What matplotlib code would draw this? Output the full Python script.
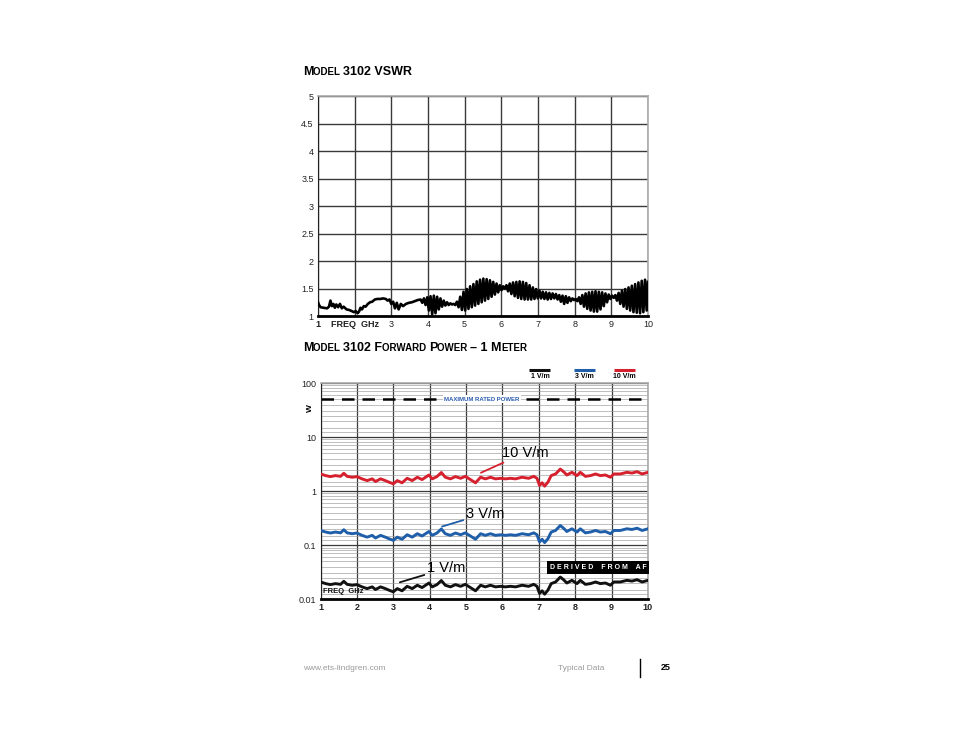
import numpy as np
import matplotlib

matplotlib.use("Agg")
import matplotlib.pyplot as plt
from matplotlib.offsetbox import AnchoredOffsetbox, HPacker, TextArea
from matplotlib.ticker import LogLocator, NullFormatter


NARROW = ["Liberation Sans Narrow", "Liberation Sans", "DejaVu Sans"]
SANS = ["Liberation Sans", "DejaVu Sans"]

# --- VSWR (top chart) ---
# smooth part, 1 - 3.75 GHz
vswr_freq = [1.00, 1.03, 1.07, 1.15, 1.25, 1.30, 1.34, 1.38, 1.42, 1.46, 1.50, 1.55,
             1.60, 1.65, 1.70, 1.78, 1.85, 1.92, 1.98, 2.03, 2.08, 2.12, 2.16, 2.20,
             2.25, 2.30, 2.36, 2.42, 2.48, 2.55, 2.62, 2.70, 2.78, 2.85, 2.90, 2.95,
             3.00, 3.05, 3.10, 3.15, 3.20, 3.26, 3.32, 3.40, 3.48, 3.56, 3.64, 3.72]
vswr_vals = [1.25, 1.20, 1.16, 1.15, 1.14, 1.17, 1.28, 1.18, 1.22, 1.15, 1.21, 1.16,
             1.22, 1.14, 1.17, 1.12, 1.11, 1.09, 1.07, 1.09, 1.05, 1.08, 1.15, 1.12,
             1.18, 1.17, 1.22, 1.25, 1.26, 1.30, 1.31, 1.31, 1.32, 1.31, 1.28, 1.30,
             1.22, 1.26, 1.14, 1.24, 1.12, 1.22, 1.18, 1.22, 1.24, 1.25, 1.27, 1.29]
# ripple part: peak / trough alternating every 0.045 GHz from 3.80 GHz
osc_start = 3.80
osc_half_step = 0.045
osc_peaks = [1.30, 1.32, 1.34, 1.36, 1.37, 1.35, 1.32, 1.28, 1.25, 1.23,
             1.22, 1.26, 1.35, 1.44, 1.49, 1.54, 1.58, 1.63, 1.66, 1.68,
             1.67, 1.65, 1.62, 1.59, 1.56, 1.54, 1.56, 1.59, 1.61, 1.62,
             1.63, 1.62, 1.60, 1.56, 1.52, 1.49, 1.46, 1.44, 1.43, 1.42,
             1.41, 1.40, 1.38, 1.37, 1.36, 1.34, 1.32, 1.31, 1.34, 1.38,
             1.41, 1.43, 1.44, 1.45, 1.44, 1.43, 1.41, 1.39, 1.37, 1.38,
             1.42, 1.46, 1.49, 1.52, 1.55, 1.58, 1.61, 1.64, 1.66]
osc_troughs = [1.24, 1.20, 1.10, 1.03, 1.05, 1.12, 1.17, 1.19, 1.20, 1.21,
               1.20, 1.16, 1.11, 1.10, 1.13, 1.16, 1.19, 1.22, 1.25, 1.28,
               1.31, 1.35, 1.39, 1.43, 1.47, 1.50, 1.45, 1.40, 1.36, 1.33,
               1.31, 1.30, 1.30, 1.30, 1.31, 1.32, 1.32, 1.31, 1.30, 1.31,
               1.32, 1.30, 1.26, 1.22, 1.24, 1.27, 1.29, 1.27, 1.22, 1.17,
               1.13, 1.10, 1.08, 1.08, 1.12, 1.18, 1.25, 1.31, 1.33, 1.28,
               1.22, 1.17, 1.13, 1.10, 1.07, 1.06, 1.05, 1.07, 1.10]
vswr_last = (10.0, 1.62)

vswr_yticks = [1, 1.5, 2, 2.5, 3, 3.5, 4, 4.5, 5]
vswr_ylabels = ["1", "1.5", "2", "2.5", "3", "3.5", "4", "4.5", "5"]
freq_ticks = [1, 2, 3, 4, 5, 6, 7, 8, 9, 10]
vswr_xlabels = ["1", "FREQ  GHz", "3", "4", "5", "6", "7", "8", "9", "10"]

# --- Forward power (bottom chart) ---
pw_freq = [1.00, 1.14, 1.27, 1.41, 1.55, 1.64, 1.73, 1.87, 2.00, 2.14,
           2.28, 2.42, 2.51, 2.65, 2.78, 2.88, 3.00, 3.11, 3.24, 3.38,
           3.52, 3.66, 3.79, 3.98, 4.07, 4.20, 4.32, 4.43, 4.57, 4.71,
           4.85, 4.98, 5.12, 5.26, 5.40, 5.53, 5.67, 5.81, 5.95, 6.08,
           6.22, 6.36, 6.54, 6.72, 6.86, 6.95, 7.02, 7.09, 7.16, 7.25,
           7.34, 7.46, 7.59, 7.68, 7.77, 7.91, 8.05, 8.14, 8.28, 8.42,
           8.56, 8.69, 8.83, 8.97, 9.06, 9.24, 9.42, 9.56, 9.70, 9.84, 10.00]
pw_10 = [2.07, 1.93, 1.85, 1.93, 1.87, 2.13, 1.87, 1.80, 1.85, 1.68,
         1.56, 1.68, 1.50, 1.68, 1.56, 1.46, 1.36, 1.56, 1.42, 1.72,
         1.56, 1.80, 1.63, 1.98, 1.68, 1.85, 2.20, 1.80, 1.68, 1.85,
         1.72, 1.87, 1.63, 1.42, 1.80, 1.68, 1.80, 1.68, 1.72, 1.68,
         1.72, 1.68, 1.80, 1.72, 1.87, 1.72, 1.27, 1.42, 1.23, 1.46,
         1.93, 2.07, 2.55, 2.28, 1.98, 2.22, 1.93, 2.22, 1.87, 1.93,
         2.07, 1.93, 1.98, 1.80, 2.07, 2.07, 2.22, 2.15, 2.28, 2.07, 2.22]
pw_3 = [0.186, 0.174, 0.167, 0.174, 0.168, 0.192, 0.168, 0.162, 0.167, 0.151,
        0.140, 0.151, 0.135, 0.151, 0.140, 0.131, 0.122, 0.140, 0.128, 0.155,
        0.140, 0.162, 0.147, 0.178, 0.151, 0.167, 0.198, 0.162, 0.151, 0.167,
        0.155, 0.168, 0.147, 0.128, 0.162, 0.151, 0.162, 0.151, 0.155, 0.151,
        0.155, 0.151, 0.162, 0.155, 0.168, 0.155, 0.114, 0.128, 0.111, 0.131,
        0.174, 0.186, 0.230, 0.205, 0.178, 0.200, 0.174, 0.200, 0.168, 0.174,
        0.186, 0.174, 0.178, 0.162, 0.186, 0.186, 0.200, 0.194, 0.205, 0.186, 0.200]
pw_1 = [0.0207, 0.0193, 0.0185, 0.0193, 0.0187, 0.0213, 0.0187, 0.0180, 0.0185, 0.0168,
        0.0156, 0.0168, 0.0150, 0.0168, 0.0156, 0.0146, 0.0136, 0.0156, 0.0142, 0.0172,
        0.0156, 0.0180, 0.0163, 0.0198, 0.0168, 0.0185, 0.0220, 0.0180, 0.0168, 0.0185,
        0.0172, 0.0187, 0.0163, 0.0142, 0.0180, 0.0168, 0.0180, 0.0168, 0.0172, 0.0168,
        0.0172, 0.0168, 0.0180, 0.0172, 0.0187, 0.0172, 0.0127, 0.0142, 0.0123, 0.0146,
        0.0193, 0.0207, 0.0255, 0.0228, 0.0198, 0.0222, 0.0193, 0.0222, 0.0187, 0.0193,
        0.0207, 0.0193, 0.0198, 0.0180, 0.0207, 0.0207, 0.0222, 0.0215, 0.0228, 0.0207, 0.0222]
max_rated_power = 50
pw_yticks = [0.01, 0.1, 1, 10, 100]
pw_ylabels = ["0.01", "0.1", "1", "10", "100"]

SERIES = ["1 V/m", "3 V/m", "10 V/m"]
COLORS = {"1 V/m": "#111111", "3 V/m": "#1f5ea8", "10 V/m": "#d6202e"}
GRID = "#3a3a3a"


def smallcaps(fig, x, y, parts, big=9.0, small=7.0):
    boxes = []
    for text, is_big in parts:
        boxes.append(TextArea(text, textprops=dict(fontsize=big if is_big else small,
                                                   fontweight="bold", family=SANS)))
    pack = HPacker(children=boxes, align="baseline", pad=0, sep=0)
    box = AnchoredOffsetbox(loc="lower left", child=pack, bbox_to_anchor=(x, y),
                            bbox_transform=fig.transFigure, frameon=False, pad=0, borderpad=0)
    fig.add_artist(box)


fig = plt.figure(figsize=(9.54, 7.38), dpi=100)
fig.patch.set_facecolor("white")

# ---------------- VSWR ----------------
ax1 = fig.add_axes([0.3333, 0.5718, 0.3459, 0.2981])
osc_vals = []
for p, t in zip(osc_peaks, osc_troughs):
    osc_vals += [p, t]
osc_freq = osc_start + osc_half_step * np.arange(len(osc_vals))
x_all = np.concatenate([vswr_freq, osc_freq, [vswr_last[0]]])
y_all = np.concatenate([vswr_vals, osc_vals, [vswr_last[1]]])
ax1.plot(x_all, y_all, color="black", lw=1.9, solid_joinstyle="round", zorder=3)

ax1.set_xlim(1, 10)
ax1.set_ylim(1, 5)
ax1.set_xticks(freq_ticks)
ax1.set_xticklabels(vswr_xlabels)
ax1.set_yticks(vswr_yticks)
ax1.set_yticklabels(vswr_ylabels)
for lab in ax1.get_xticklabels() + ax1.get_yticklabels():
    lab.set_family(NARROW)
    lab.set_fontsize(6.5)
    lab.set_color("#222222")
ax1.get_xticklabels()[1].set_fontweight("bold")
ax1.get_xticklabels()[0].set_fontweight("bold")
ax1.tick_params(length=0, pad=3)
ax1.grid(True, color=GRID, lw=1.0)
ax1.set_axisbelow(True)
for side in ["top", "right"]:
    ax1.spines[side].set_color("#aaaaaa")
    ax1.spines[side].set_linewidth(1.2)
ax1.spines["left"].set_color("#222222")
ax1.spines["bottom"].set_color("black")
ax1.spines["bottom"].set_linewidth(2.0)

smallcaps(fig, 0.3176, 0.894, [("M", True), ("ODEL ", False), ("3102 VSWR", True)])

# ---------------- Forward power ----------------
ax2 = fig.add_axes([0.3360, 0.1883, 0.3432, 0.2927])
for name, vals in zip(SERIES, [pw_1, pw_3, pw_10]):
    ax2.plot(pw_freq, vals, color=COLORS[name], lw=2.1, solid_joinstyle="round", zorder=3)
ax2.set_yscale("log")
ax2.set_xlim(1, 10)
ax2.set_ylim(0.01, 100)
ax2.set_xticks(freq_ticks)
ax2.set_xticklabels([str(v) for v in freq_ticks])
ax2.set_yticks(pw_yticks)
ax2.set_yticklabels(pw_ylabels)
ax2.yaxis.set_minor_locator(LogLocator(base=10, subs=[1.25, 1.5, 2, 2.5, 3, 4, 5, 6, 7, 8, 9]))
ax2.yaxis.set_minor_formatter(NullFormatter())
for lab in ax2.get_xticklabels() + ax2.get_yticklabels():
    lab.set_family(NARROW)
    lab.set_fontsize(6.5)
    lab.set_color("#222222")
for lab in ax2.get_xticklabels():
    lab.set_fontweight("bold")
ax2.tick_params(which="both", length=0, pad=3)
ax2.grid(True, which="major", color=GRID, lw=0.9)
ax2.grid(True, which="minor", axis="y", color="#9a9a9a", lw=0.45)
ax2.set_axisbelow(True)
for side in ["top", "right"]:
    ax2.spines[side].set_color("#aaaaaa")
    ax2.spines[side].set_linewidth(1.2)
ax2.spines["left"].set_color("#222222")
ax2.spines["bottom"].set_color("black")
ax2.spines["bottom"].set_linewidth(2.0)

ax2.axhline(max_rated_power, color="black", lw=1.8, dashes=(5, 3.2), zorder=2)
ax2.text(5.44, max_rated_power, "MAXIMUM RATED POWER", ha="center", va="center",
         fontsize=4.3, fontweight="bold", color="#2a5db0", family=SANS,
         bbox=dict(facecolor="white", edgecolor="none", pad=1.0), zorder=4)

ax2.text(-0.03, 0.885, "W", transform=ax2.transAxes, rotation=90, ha="center", va="center",
         fontsize=6, fontweight="bold", family=SANS)
ax2.text(0.006, 0.035, "FREQ  GHz", transform=ax2.transAxes, ha="left", va="center",
         fontsize=5.5, fontweight="bold", family=NARROW, color="#111111", zorder=5)
ax2.text(0.995, 0.145, "D E R I V E D    F R O M    A F", transform=ax2.transAxes,
         ha="right", va="center", fontsize=5.0, fontweight="bold", color="white", family=SANS,
         bbox=dict(facecolor="black", edgecolor="none", pad=2.2), zorder=5)

# series callouts
callouts = [("10 V/m", (5.41, 2.18), (5.98, 5.1)),
            ("3 V/m", (4.34, 0.22), (5.0, 0.383)),
            ("1 V/m", (3.18, 0.0204), (3.93, 0.037))]
for name, xy, xytext in callouts:
    ax2.annotate(name, xy=xy, xytext=xytext, ha="left", va="center", fontsize=10.5,
                 family=SANS, color="black", zorder=6,
                 arrowprops=dict(arrowstyle="-", color=COLORS[name], lw=1.3,
                                 shrinkA=0, shrinkB=0))

# legend keys above the plot
key_x = [0.670, 0.805, 0.928]
for name, kx in zip(SERIES, key_x):
    ax2.plot([kx - 0.032, kx + 0.032], [1.060, 1.060], transform=ax2.transAxes,
             color=COLORS[name], lw=2.2, clip_on=False, solid_capstyle="butt")
    ax2.text(kx, 1.030, name, transform=ax2.transAxes, ha="center", va="center",
             fontsize=5, fontweight="bold", family=SANS)

smallcaps(fig, 0.3176, 0.520, [("M", True), ("ODEL ", False), ("3102 F", True),
                               ("ORWARD ", False), ("P", True), ("OWER ", False),
                               ("\u2013 1 M", True), ("ETER", False)])

# ---------------- page footer ----------------
fig.text(0.3176, 1 - 668 / 738, "www.ets-lindgren.com", fontsize=6, color="#9a9a9a",
         family=SANS, va="center")
fig.text(0.585, 1 - 668 / 738, "Typical Data", fontsize=6, color="#9a9a9a",
         family=SANS, va="center")
fig.add_artist(plt.Line2D([0.6705, 0.6705], [1 - 677 / 738, 1 - 659 / 738],
                          color="black", lw=1.0, transform=fig.transFigure))
fig.text(0.693, 1 - 668 / 738, "25", fontsize=6.5, fontweight="bold", color="black",
         family=SANS, va="center")

fig.savefig("out.png", dpi=100)
